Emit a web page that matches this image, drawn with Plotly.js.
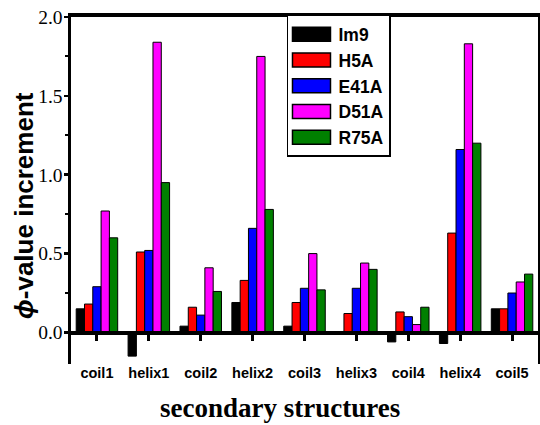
<!DOCTYPE html>
<html>
<head>
<meta charset="utf-8">
<script src="https://cdn.plot.ly/plotly-3.0.1.min.js"></script>
<style>html,body{margin:0;padding:0;background:#fff;}#chart{width:540px;height:425px;}</style>
</head>
<body>
<div id="chart"></div>
<script>
const categories = ['coil1','helix1','coil2','helix2','coil3','helix3','coil4','helix4','coil5'];
const seriesNames = ['Im9','H5A','E41A','D51A','R75A'];
const im9  = [0.15, -0.15, 0.04, 0.19, 0.04, 0.00, -0.06, -0.07, 0.15];
const h5a  = [0.18, 0.51, 0.16, 0.33, 0.19, 0.12, 0.13, 0.63, 0.15];
const e41a = [0.29, 0.52, 0.11, 0.66, 0.28, 0.28, 0.10, 1.16, 0.25];
const d51a = [0.77, 1.84, 0.41, 1.75, 0.50, 0.44, 0.05, 1.83, 0.32];
const r75a = [0.60, 0.95, 0.26, 0.78, 0.27, 0.40, 0.16, 1.20, 0.37];
const yTickVals = [0, 0.5, 1.0, 1.5, 2.0];
const yMinorVals = [0.25, 0.75, 1.25, 1.75];
const colors = ['#000000','#ff0000','#0000ff','#ff00ff','#008000'];
const allSeries = [im9, h5a, e41a, d51a, r75a];

const traces = allSeries.map((vals, i) => ({
  type: 'bar',
  name: seriesNames[i],
  x: categories,
  y: vals,
  marker: {color: colors[i], line: {color: '#000', width: 1}}
}));
// empty helper trace so the top frame axis is drawn
traces.push({type: 'scatter', x: [], y: [], xaxis: 'x2', yaxis: 'y', showlegend: false, hoverinfo: 'skip'});

const zeroFrac = 0.2 / 2.2;

const layout = {
  width: 540, height: 425,
  margin: {l: 71, r: 2, t: 17, b: 61},
  paper_bgcolor: '#fff', plot_bgcolor: '#fff',
  barmode: 'group', bargap: 0.2, bargroupgap: 0,
  showlegend: true,
  legend: {
    x: 0.4625, y: 1.006, xanchor: 'left', yanchor: 'top',
    bordercolor: '#000', borderwidth: 1.5, bgcolor: '#fff',
    font: {family: 'Liberation Sans, Arial', size: 17.5, color: '#000', weight: 'bold'},
    tracegroupgap: 0, itemwidth: 40
  },
  xaxis: {
    type: 'category', range: [-0.5, 8.5],
    anchor: 'free', position: zeroFrac,
    showline: true, linecolor: '#000', linewidth: 3.5,
    ticks: 'outside', ticklen: 6, tickwidth: 3, tickcolor: '#000',
    ticklabelstandoff: 20,
    tickfont: {family: 'Liberation Sans, Arial', size: 14.5, color: '#000', weight: 'bold'},
    showgrid: false, zeroline: false
  },
  xaxis2: {
    overlaying: 'x', side: 'top', anchor: 'y', type: 'linear', range: [-0.5, 8.5],
    showline: true, linecolor: '#000', linewidth: 4,
    showticklabels: false, ticks: '', showgrid: false, zeroline: false
  },
  yaxis: {
    range: [-0.2, 2.0],
    tickvals: yTickVals, tickformat: '.1f',
    ticks: 'outside', ticklen: 4, tickwidth: 2.5, tickcolor: '#000',
    ticklabelstandoff: -3,
    minor: {tickvals: yMinorVals, ticks: 'outside', ticklen: 3, tickwidth: 2, tickcolor: '#000'},
    showline: true, linecolor: '#000', linewidth: 3.5, mirror: true,
    tickfont: {family: 'Liberation Serif, Times New Roman', size: 19.5, color: '#000'},
    showgrid: false, zeroline: false
  },
  annotations: [
    {text: 'secondary structures', xref: 'paper', yref: 'paper', x: 0.4475, y: -0.127,
     xanchor: 'center', yanchor: 'middle', showarrow: false,
     font: {family: 'Liberation Serif, Times New Roman', size: 27, color: '#000', weight: 'bold'}},
    {text: '<i>ϕ</i>-value increment', xref: 'paper', yref: 'paper', x: -0.101, y: 0.458,
     xanchor: 'center', yanchor: 'middle', textangle: -90, showarrow: false,
     font: {family: 'Liberation Sans, Arial', size: 26, color: '#000', weight: 'bold'}}
  ]
};

Plotly.newPlot('chart', traces, layout, {displayModeBar: false, staticPlot: true}).then(gd => {
  // wide rectangular legend keys as in the reference
  gd.querySelectorAll('.legend .legendpoints path').forEach(p => {
    p.setAttribute('d', 'M-21,-7H17V7H-21Z');
    p.style.strokeWidth = '1.5px';
    p.style.stroke = '#000';
  });
});
</script>
</body>
</html>
